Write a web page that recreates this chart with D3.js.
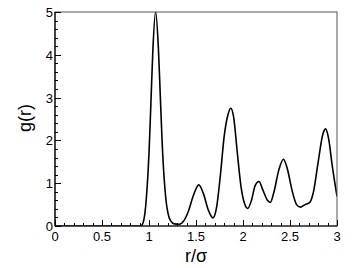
<!DOCTYPE html>
<html>
<head>
<meta charset="utf-8">
<script src="https://cdn.jsdelivr.net/npm/d3@7"></script>
<style>
  body { margin: 0; background: #fff; }
  text { font-family: "Liberation Sans", Arial, sans-serif; }
</style>
</head>
<body>
<div id="chart"></div>
<script>
// radial distribution function
const rValues = [0, 0.5, 0.9, 0.92, 0.95, 0.98, 1.0, 1.02, 1.04, 1.07, 1.1, 1.12, 1.14, 1.16, 1.18, 1.2,
  1.23, 1.27, 1.32, 1.37, 1.42, 1.47, 1.53, 1.58, 1.63, 1.68, 1.72, 1.76, 1.8, 1.84, 1.87, 1.9,
  1.94, 1.98, 2.02, 2.05, 2.09, 2.13, 2.17, 2.21, 2.26, 2.29, 2.33, 2.38, 2.43, 2.47, 2.52, 2.57,
  2.61, 2.66, 2.71, 2.75, 2.8, 2.85, 2.88, 2.91, 2.95, 3.0];
const gValues = [0, 0, 0, 0.01, 0.2, 0.9, 1.7, 2.85, 4.05, 5.0, 4.15, 3.05, 1.95, 1.15, 0.62, 0.32,
  0.12, 0.05, 0.04, 0.12, 0.35, 0.7, 0.96, 0.75, 0.38, 0.19, 0.45, 1.2, 2.1, 2.6, 2.75, 2.55,
  1.7, 0.9, 0.5, 0.41, 0.6, 0.95, 1.04, 0.85, 0.6, 0.55, 0.8, 1.3, 1.56, 1.35, 0.85, 0.5,
  0.44, 0.5, 0.55, 0.8, 1.5, 2.15, 2.27, 2.05, 1.4, 0.69];

const xTicks = [0, 0.5, 1, 1.5, 2, 2.5, 3];
const yTicks = [0, 1, 2, 3, 4, 5];

const width = 354, height = 268;
const margin = { top: 12, right: 17, bottom: 42, left: 55 };
const plotW = width - margin.left - margin.right;
const plotH = height - margin.top - margin.bottom;

const svg = d3.select("#chart").append("svg")
  .attr("width", width)
  .attr("height", height);

const x = d3.scaleLinear().domain([0, 3]).range([margin.left, margin.left + plotW]);
const y = d3.scaleLinear().domain([0, 5]).range([margin.top + plotH, margin.top]);

// clip so the first peak sits on the top border
svg.append("clipPath").attr("id", "clip")
  .append("rect")
  .attr("x", margin.left).attr("y", margin.top)
  .attr("width", plotW).attr("height", plotH);

const data = rValues.map((r, i) => ({ r: r, g: gValues[i] }));

const line = d3.line()
  .x(d => x(d.r))
  .y(d => y(d.g))
  .curve(d3.curveMonotoneX);

svg.append("path")
  .datum(data)
  .attr("clip-path", "url(#clip)")
  .attr("fill", "none")
  .attr("stroke", "#000")
  .attr("stroke-width", 1.6)
  .attr("d", line);

// frame top/right
svg.append("rect")
  .attr("x", margin.left).attr("y", margin.top)
  .attr("width", plotW).attr("height", plotH)
  .attr("fill", "none")
  .attr("stroke", "#555")
  .attr("stroke-width", 1);

// minor ticks
const xMinor = d3.range(0, 3.001, 0.1);
const yMinor = d3.range(0, 5.001, 0.2);

svg.append("g").selectAll("line")
  .data(xMinor)
  .join("line")
  .attr("x1", d => Math.round(x(d)) + 0.5).attr("x2", d => Math.round(x(d)) + 0.5)
  .attr("y1", y(0)).attr("y2", d => y(0) - (Math.abs(d * 2 - Math.round(d * 2)) < 1e-6 ? 6 : 3))
  .attr("stroke", "#000");

svg.append("g").selectAll("line")
  .data(yMinor)
  .join("line")
  .attr("y1", d => Math.round(y(d)) + 0.5).attr("y2", d => Math.round(y(d)) + 0.5)
  .attr("x1", x(0)).attr("x2", d => x(0) + (Math.abs(d - Math.round(d)) < 1e-6 ? 6 : 3))
  .attr("stroke", "#000");

// axes lines
svg.append("line")
  .attr("x1", x(0)).attr("x2", x(3))
  .attr("y1", y(0)).attr("y2", y(0))
  .attr("stroke", "#000").attr("stroke-width", 1.2);
svg.append("line")
  .attr("x1", x(0)).attr("x2", x(0))
  .attr("y1", y(0)).attr("y2", y(5))
  .attr("stroke", "#000").attr("stroke-width", 1.2);

// tick labels
svg.append("g").selectAll("text")
  .data(xTicks)
  .join("text")
  .attr("x", d => x(d))
  .attr("y", y(0) + 15)
  .attr("text-anchor", "middle")
  .attr("font-size", 13)
  .text(d => d);

svg.append("g").selectAll("text")
  .data(yTicks)
  .join("text")
  .attr("x", x(0) - 2)
  .attr("y", d => y(d) + 5)
  .attr("text-anchor", "end")
  .attr("font-size", 13)
  .text(d => d);

// axis titles
svg.append("text")
  .attr("x", margin.left + plotW / 2)
  .attr("y", 262)
  .attr("text-anchor", "middle")
  .attr("font-size", 18)
  .text("r/σ");

svg.append("text")
  .attr("transform", "translate(31,118) rotate(-90)")
  .attr("text-anchor", "middle")
  .attr("font-size", 18)
  .text("g(r)");
</script>
</body>
</html>
